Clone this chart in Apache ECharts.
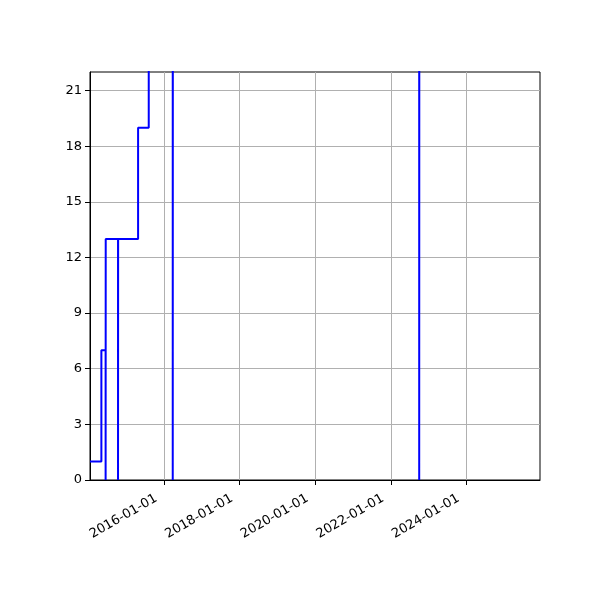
<!DOCTYPE html>
<html>
<head>
<meta charset="utf-8">
<script src="https://cdn.jsdelivr.net/npm/echarts@6/dist/echarts.min.js"></script>
<style>html,body{margin:0;padding:0;background:#fff}#c{width:600px;height:600px}</style>
</head>
<body>
<div id="c"></div>
<script>
// step series: value holds from its date until the next date
const dates = ['2014-01-15','2014-05-05','2014-06-15','2014-06-16','2014-10-13','2014-10-14','2015-04-25','2015-08-06','2016-03-25','2016-03-26','2022-10-03','2022-10-04','2025-12-14'];
const values = [1, 7, 0, 13, 0, 13, 19, 25, 0, 25, 0, 25, 25];
const xTicks = ['2016-01-01','2018-01-01','2020-01-01','2022-01-01','2024-01-01'];
const yTicks = [0, 3, 6, 9, 12, 15, 18, 21];
const xRange = ['2014-01-15', '2025-12-14'];
const yRange = [0, 22];

const ts = s => Date.UTC(+s.slice(0,4), +s.slice(5,7) - 1, +s.slice(8,10));
const pad = n => (n < 10 ? '0' : '') + n;
const fmt = v => { const d = new Date(v); return d.getUTCFullYear() + '-' + pad(d.getUTCMonth() + 1) + '-' + pad(d.getUTCDate()); };
const font = 'DejaVu Sans';
const chart = echarts.init(document.getElementById('c'), null, {renderer: 'canvas'});
chart.setOption({
  animation: false,
  backgroundColor: '#fff',
  grid: {left: 90, right: 60, top: 72, bottom: 120, show: true, borderColor: '#000', borderWidth: 1, containLabel: false},
  xAxis: {
    type: 'value',
    min: ts(xRange[0]), max: ts(xRange[1]),
    axisLine: {show: true, onZero: false, lineStyle: {color: '#000', width: 1}},
    axisTick: {show: true, length: 5, lineStyle: {color: '#000'}, customValues: xTicks.map(ts)},
    axisLabel: {customValues: xTicks.map(ts), rotate: 30, margin: 13, padding: [0, 9, 0, 0], color: '#000', fontFamily: font, fontSize: 13, formatter: fmt},
    splitLine: {show: true, lineStyle: {color: '#b0b0b0', width: 1}}
  },
  yAxis: {
    type: 'value',
    min: yRange[0], max: yRange[1], interval: 3,
    axisLine: {show: true, lineStyle: {color: '#000', width: 1}},
    axisTick: {show: true, length: 5, lineStyle: {color: '#000'}, customValues: yTicks},
    axisLabel: {customValues: yTicks, margin: 8, color: '#000', fontFamily: font, fontSize: 13},
    splitLine: {show: true, lineStyle: {color: '#b0b0b0', width: 1}}
  },
  series: [{
    type: 'line',
    step: 'end',
    data: dates.map((d, i) => [ts(d), values[i]]),
    showSymbol: false,
    clip: true,
    lineStyle: {color: '#0000ff', width: 2},
    itemStyle: {color: '#0000ff'}
  }]
});
</script>
</body>
</html>
